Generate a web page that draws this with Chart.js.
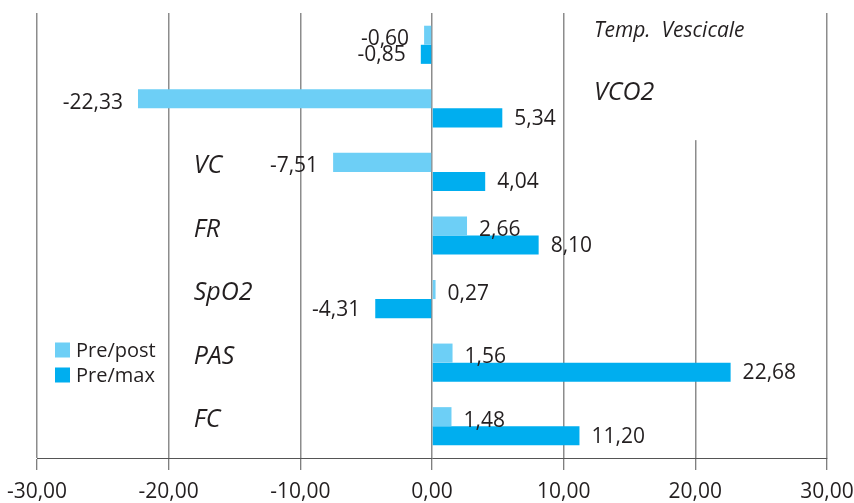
<!DOCTYPE html>
<html>
<head>
<meta charset="utf-8">
<script src="https://cdn.jsdelivr.net/npm/chart.js@4.4.1/dist/chart.umd.min.js"></script>
<style>
  html, body { margin: 0; padding: 0; background: #fff; }
  #wrap { width: 854px; height: 503px; }
</style>
</head>
<body>
<div id="wrap"><canvas id="c" width="854" height="503"></canvas></div>
<script>
// Parameters, top to bottom
const categories = ['Temp.  Vescicale', 'VCO2', 'VC', 'FR', 'SpO2', 'PAS', 'FC'];
// Percentage change, pre vs post
const prePost = [-0.60, -22.33, -7.51, 2.66, 0.27, 1.56, 1.48];
// Percentage change, pre vs max
const preMax = [-0.85, 5.34, 4.04, 8.10, -4.31, 22.68, 11.20];
const xTicks = [-30, -20, -10, 0, 10, 20, 30];

const seriesNames = ['Pre/post', 'Pre/max'];
const seriesColors = ['#6dcff6', '#00aeef'];
const textColor = '#231f20';
const FONT = '"Open Sans", "Liberation Sans", sans-serif';

const fmt = v => v.toFixed(2).replace('.', ',');

// Category names written inside the plot, plus white box behind the top two
const categoryLabels = {
  id: 'categoryLabels',
  beforeDatasetsDraw(chart) {
    const { ctx, chartArea } = chart;
    const xs = chart.scales.x, ys = chart.scales.y;
    ctx.save();
    // clear the area holding the upper-right names
    const boxLeft = xs.getPixelForValue(11.5);
    const boxRight = xs.getPixelForValue(27);
    const boxBottom = ys.getPixelForValue(1.5);
    ctx.fillStyle = '#ffffff';
    ctx.fillRect(boxLeft, chartArea.top, boxRight - boxLeft, boxBottom - chartArea.top);

    ctx.fillStyle = textColor;
    ctx.textAlign = 'left';
    ctx.textBaseline = 'alphabetic';
    categories.forEach((name, i) => {
      const yc = ys.getPixelForValue(i);
      if (i < 2) {
        ctx.font = 'italic ' + (i === 0 ? 21 : 25) + 'px ' + FONT;
        ctx.fillText(name, xs.getPixelForValue(12.3), yc - 8);
      } else {
        ctx.font = 'italic 25px ' + FONT;
        ctx.fillText(name, xs.getPixelForValue(-18.1), yc + 1);
      }
    });
    ctx.restore();
  }
};

// Value labels at the end of each bar, plus the legend
const valueLabels = {
  id: 'valueLabels',
  afterDatasetsDraw(chart) {
    const { ctx, chartArea } = chart;
    ctx.save();
    ctx.font = '21px ' + FONT;
    ctx.fillStyle = textColor;
    ctx.textBaseline = 'middle';
    chart.data.datasets.forEach((ds, di) => {
      const meta = chart.getDatasetMeta(di);
      meta.data.forEach((bar, i) => {
        const v = ds.data[i];
        const shift = di === 0 ? 4 : 1;
        if (v >= 0) {
          ctx.textAlign = 'left';
          ctx.fillText(fmt(v), bar.x + 12, bar.y + shift);
        } else {
          ctx.textAlign = 'right';
          ctx.fillText(fmt(v), bar.x - 15, bar.y + shift);
        }
      });
    });

    // legend
    ctx.font = '20px ' + FONT;
    ctx.textAlign = 'left';
    const lx = chartArea.left + 18;
    const ly = chartArea.bottom - 108;
    chart.data.datasets.forEach((ds, di) => {
      const y = ly + di * 25;
      ctx.fillStyle = ds.backgroundColor;
      ctx.fillRect(lx, y - 7.5, 15, 15);
      ctx.fillStyle = textColor;
      ctx.fillText(ds.label, lx + 21, y + 1);
    });
    ctx.restore();
  }
};

new Chart(document.getElementById('c'), {
  type: 'bar',
  data: {
    labels: categories,
    datasets: [
      { label: seriesNames[0], data: prePost, backgroundColor: seriesColors[0] },
      { label: seriesNames[1], data: preMax, backgroundColor: seriesColors[1] }
    ]
  },
  options: {
    indexAxis: 'y',
    responsive: false,
    animation: false,
    devicePixelRatio: 1,
    layout: { padding: { left: 37, right: 27, top: 13, bottom: 0 } },
    datasets: {
      bar: { categoryPercentage: 0.6, barPercentage: 1.0, borderWidth: 0 }
    },
    plugins: {
      legend: { display: false },
      tooltip: { enabled: false }
    },
    scales: {
      x: {
        min: -30,
        max: 30,
        afterBuildTicks: (axis) => { axis.ticks = xTicks.map(v => ({ value: v })); },
        afterFit: (axis) => {
          axis.height = 45;
          axis.paddingLeft = 0;
          axis.paddingRight = 0;
        },
        grid: {
          color: '#8c8c8c',
          lineWidth: 1.5,
          drawTicks: true,
          tickLength: 12,
          tickColor: '#555555',
          tickWidth: 1
        },
        border: { display: true, color: '#555555', width: 1 },
        ticks: {
          padding: 9,
          color: textColor,
          font: { family: FONT, size: 21 },
          maxRotation: 0,
          callback: (v) => fmt(v)
        }
      },
      y: {
        display: false,
        grid: { display: false }
      }
    }
  },
  plugins: [categoryLabels, valueLabels]
});
</script>
</body>
</html>
